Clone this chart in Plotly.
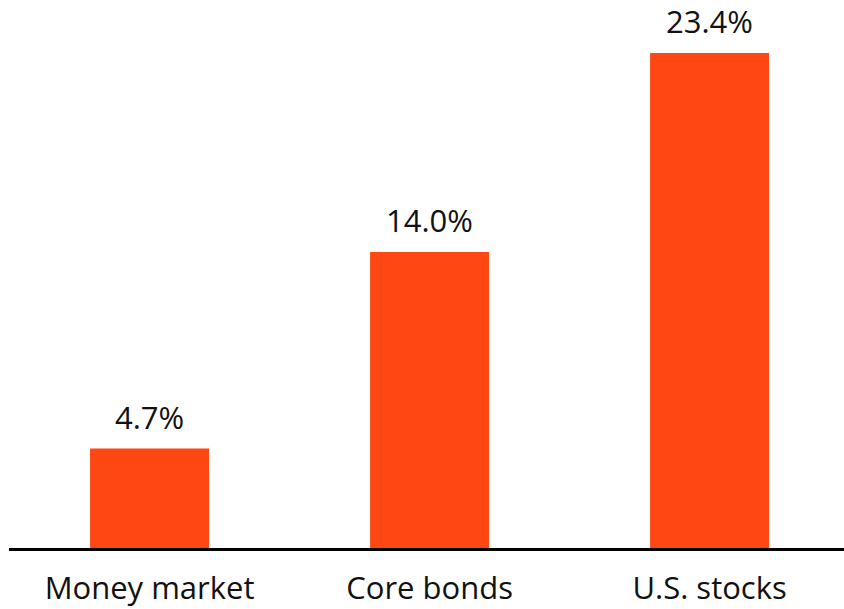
import plotly.graph_objects as go

categories = ["Money market", "Core bonds", "U.S. stocks"]
values = [4.7, 14.0, 23.4]
labels = ["4.7%", "14.0%", "23.4%"]

FONT = "Open Sans"
fig = go.Figure(go.Bar(
    x=categories, y=values,
    marker=dict(color="#FF4713", line=dict(width=0)),
    width=0.425, cliponaxis=False, hoverinfo="skip",
))
for c, v, t in zip(categories, values, labels):
    fig.add_annotation(x=c, y=v, text=t, showarrow=False, yanchor="bottom",
                       yshift=9, font=dict(size=31, color="#111111", family=FONT))
fig.update_layout(
    width=844, height=609,
    margin=dict(l=9, r=0, t=0, b=61, autoexpand=False),
    plot_bgcolor="white", paper_bgcolor="white",
    showlegend=False,
    font=dict(family=FONT, size=31, color="#111111"),
)
fig.update_xaxes(range=[-0.502, 2.480], showline=True, linewidth=3, linecolor="black",
                 ticks="", showgrid=False, tickfont=dict(size=31), ticklabelstandoff=11,
                 automargin=False)
fig.update_yaxes(range=[0, 25.91], visible=False, showgrid=False, zeroline=False)
fig.write_html("out.html", config={"displayModeBar": False},
               post_script="document.body.style.margin='0';document.body.style.overflow='hidden';")
